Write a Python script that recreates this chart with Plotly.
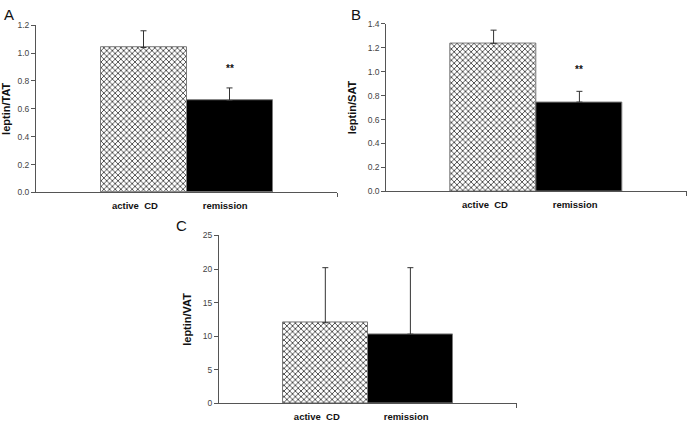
import plotly.graph_objects as go

groups = ["active  CD", "remission"]
tat_vals = [1.04, 0.66]
tat_err = [0.12, 0.09]
sat_vals = [1.235, 0.745]
sat_err = [0.11, 0.09]
vat_vals = [12.0, 10.3]
vat_err = [8.2, 9.9]
panel_letters = ["A", "B", "C"]
y_titles = ["leptin/TAT", "leptin/SAT", "leptin/VAT"]
y_ranges = [[0, 1.2], [0, 1.4], [0, 25]]
y_dticks = [0.2, 0.2, 5]
y_formats = [".1f", ".1f", "d"]
sig_marks = ["**", "**", ""]

W, H = 688, 424
# pixel boxes: (left, right, bottom, top)
boxes = [(36, 337, 192, 20.7), (386.3, 686.7, 191, 19), (219, 516.7, 408, 236)]

fig = go.Figure()
series = [(tat_vals, tat_err), (sat_vals, sat_err), (vat_vals, vat_err)]
bar_x = [-0.5, 0.5]
label_x = [-0.6, 0.45]
for i, (vals, errs) in enumerate(series):
    xa = "x" if i == 0 else f"x{i+1}"
    ya = "y" if i == 0 else f"y{i+1}"
    for j in range(2):
        if j == 0:
            marker = dict(color="white", line=dict(color="#7a7a7a", width=1),
                          pattern=dict(shape="x", size=4, solidity=0.4,
                                       fgcolor="#444444", bgcolor="white", fillmode="replace"))
        else:
            marker = dict(color="black", line=dict(color="#7a7a7a", width=1))
        fig.add_trace(go.Bar(
            x=[bar_x[j]], y=[vals[j]], width=1.0, xaxis=xa, yaxis=ya,
            marker=marker, showlegend=False, hoverinfo="skip",
            error_y=dict(type="data", array=[errs[j]], arrayminus=[0], symmetric=False,
                         color="#333333", thickness=1, width=3),
        ))
    l, r, b, t = boxes[i]
    xd = [l / W, r / W]
    yd = [(H - b) / H, (H - t) / H]
    xkey = "xaxis" if i == 0 else f"xaxis{i+1}"
    ykey = "yaxis" if i == 0 else f"yaxis{i+1}"
    fig.update_layout(**{
        xkey: dict(domain=xd, range=[-1.75, 1.75], anchor=ya,
                   showgrid=False, zeroline=False, showline=True, linecolor="#555555", linewidth=1,
                   tickmode="array", tickvals=label_x, ticktext=["<b>" + g + "</b>" for g in groups],
                   ticks="",
                   tickfont=dict(family="Liberation Sans", size=9.5, color="#111111"),
                   ticklabelstandoff=4,
                   minor=dict(tickmode="array", tickvals=[1.75], ticks="outside", ticklen=4,
                              tickcolor="#555555")),
        ykey: dict(domain=yd, range=y_ranges[i], anchor=xa, dtick=y_dticks[i], tick0=0,
                   tickformat=y_formats[i], showgrid=False, zeroline=False, showline=True,
                   linecolor="#555555", linewidth=1, ticks="outside", ticklen=4,
                   tickcolor="#555555",
                   tickfont=dict(family="Liberation Sans", size=8.5, color="#444444"),
                   title=dict(text="<b>" + y_titles[i] + "</b>", standoff=8,
                              font=dict(family="Liberation Sans", size=11, color="#111111"))),
    })
sig_shift = [19, 22, 0]
for i, (vals, errs) in enumerate(series):
    if sig_marks[i]:
        xa = "x" if i == 0 else f"x{i+1}"
        ya = "y" if i == 0 else f"y{i+1}"
        fig.add_annotation(x=bar_x[1], y=vals[1] + errs[1], xref=xa, yref=ya,
                           text="<b>" + sig_marks[i] + "</b>", showarrow=False,
                           yshift=sig_shift[i], font=dict(family="Liberation Sans", size=10, color="#111111"))

letter_pos = [(2, 10), (349, 10), (174, 226)]
for k, (px, py) in enumerate(letter_pos):
    fig.add_annotation(x=px / W, y=1 - py / H, xref="paper", yref="paper", xanchor="left",
                       yanchor="middle", text=panel_letters[k], showarrow=False,
                       font=dict(family="Liberation Sans", size=15, color="#111111"))

fig.update_layout(width=W, height=H, margin=dict(l=0, r=0, t=0, b=0),
                  plot_bgcolor="white", paper_bgcolor="white", bargap=0, hovermode=False)
fig.write_html("out.html", config={"displayModeBar": False},
               post_script="document.body.style.margin='0';document.body.style.overflow='hidden';")
